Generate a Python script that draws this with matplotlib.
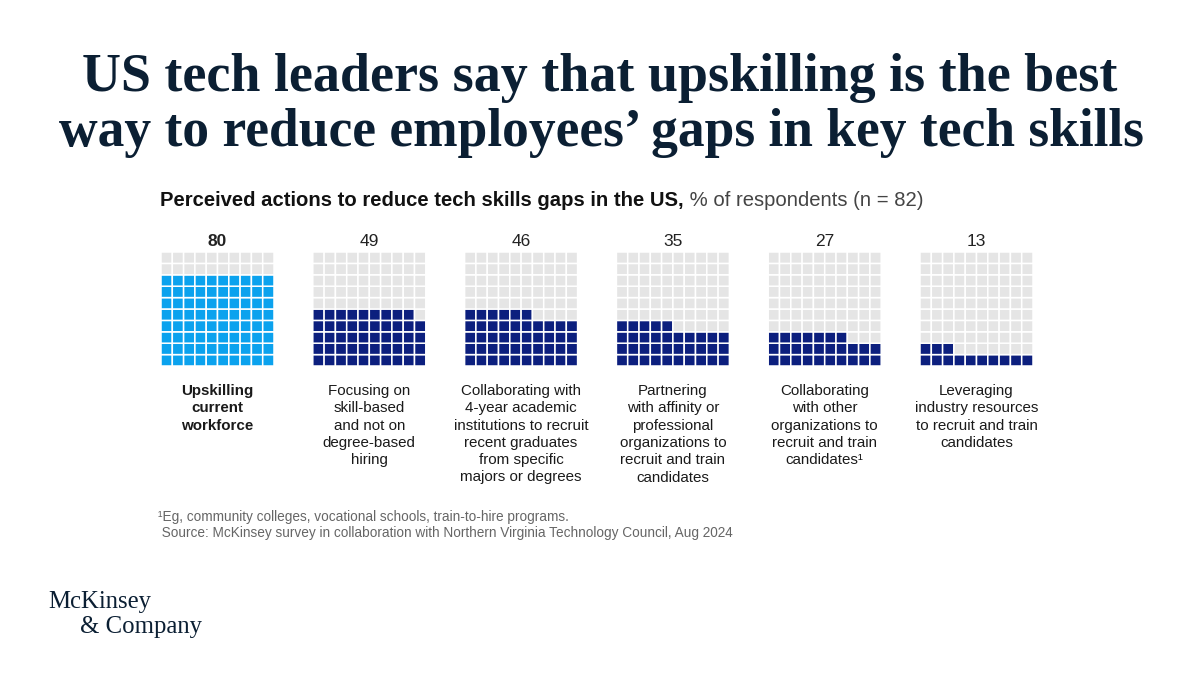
import matplotlib
matplotlib.use("Agg")
import matplotlib.pyplot as plt
from matplotlib.patches import Rectangle

# ---------------- data ----------------
values = [80, 49, 46, 35, 27, 13]
value_labels = ["80", "49", "46", "35", "27", "13"]
categories = [
    "Upskilling\ncurrent\nworkforce",
    "Focusing on\nskill-based\nand not on\ndegree-based\nhiring",
    "Collaborating with\n4-year academic\ninstitutions to recruit\nrecent graduates\nfrom specific\nmajors or degrees",
    "Partnering\nwith affinity or\nprofessional\norganizations to\nrecruit and train\ncandidates",
    "Collaborating\nwith other\norganizations to\nrecruit and train\ncandidates\u00b9",
    "Leveraging\nindustry resources\nto recruit and train\ncandidates",
]
highlight = [True, False, False, False, False, False]
title_lines = [
    "US tech leaders say that upskilling is the best",
    "way to reduce employees\u2019 gaps in key tech skills",
]
subtitle_bold = "Perceived actions to reduce tech skills gaps in the US,"
subtitle_light = " % of respondents (n = 82)"
footnotes = [
    "\u00b9Eg, community colleges, vocational schools, train-to-hire programs.",
    " Source: McKinsey survey in collaboration with Northern Virginia Technology Council, Aug 2024",
]

# ---------------- style ----------------
W, H = 1200, 675
NAVY_TXT = "#0B1F33"
C_HI = "#0BA2EE"
C_FILL = "#0C1F7E"
C_EMPTY = "#E5E5E5"
SANS = ["Liberation Sans", "DejaVu Sans"]
SERIF = ["Liberation Serif", "DejaVu Serif"]

fig = plt.figure(figsize=(12, 6.75), dpi=100)
fig.patch.set_facecolor("white")


def fx(px):
    return px / W


def fy(py):
    return 1 - py / H


def fit_width(t, target):
    fig.canvas.draw()
    w = t.get_window_extent(renderer=fig.canvas.get_renderer()).width
    t.set_fontsize(t.get_fontsize() * target / w)


# ---------------- title ----------------
t1 = fig.text(fx(600), fy(91), title_lines[0], ha="center", va="baseline",
              family=SERIF, fontweight="bold", fontsize=36, color=NAVY_TXT)
t2 = fig.text(fx(601), fy(146), title_lines[1], ha="center", va="baseline",
              family=SERIF, fontweight="bold", fontsize=36, color=NAVY_TXT)
fit_width(t1, 1036)
fit_width(t2, 1087)

# ---------------- subtitle ----------------
sb = fig.text(fx(160), fy(206), subtitle_bold, ha="left", va="baseline",
              family=SANS, fontweight="bold", fontsize=13, color="#111111")
fit_width(sb, 522)
fig.canvas.draw()
bb = sb.get_window_extent(renderer=fig.canvas.get_renderer())
sl = fig.text(bb.x1 / W, fy(206), subtitle_light, ha="left", va="baseline",
              family=SANS, fontweight="normal", fontsize=sb.get_fontsize(),
              color="#444444")

# ---------------- waffles ----------------
grid_left0 = 161
pitch = 151.8
grid_w = 113
grid_top, grid_bot = 252, 366

for i, (v, lab, cat, hi) in enumerate(zip(values, value_labels, categories, highlight)):
    left = grid_left0 + i * pitch
    ax = fig.add_axes([fx(left), fy(grid_bot), grid_w / W, (grid_bot - grid_top) / H])
    ax.set_xlim(0, 10)
    ax.set_ylim(0, 10)
    ax.axis("off")
    fill = C_HI if hi else C_FILL
    for k in range(100):
        row, col = divmod(k, 10)
        color = fill if k < v else C_EMPTY
        ax.add_patch(Rectangle((col, row), 1, 1, facecolor=color,
                               edgecolor="white", linewidth=1.1, snap=False))
    cx = left + grid_w / 2
    fig.text(fx(cx), fy(241), lab, ha="center", va="center", family=SANS,
             fontsize=12.5, fontweight="bold" if hi else "normal", color="#222222")
    fig.text(fx(cx), fy(384), cat, ha="center", va="top", family=SANS,
             fontsize=10.9, fontweight="bold" if hi else "normal",
             color="#1a1a1a", linespacing=1.3)

# ---------------- footnotes ----------------
f1 = fig.text(fx(158), fy(521), footnotes[0], ha="left", va="baseline",
              family=SANS, fontsize=9.5, color="#666666")
f2 = fig.text(fx(158), fy(537), footnotes[1], ha="left", va="baseline",
              family=SANS, fontsize=9.5, color="#666666")
fit_width(f2, 574)
f1.set_fontsize(f2.get_fontsize())

# ---------------- logo ----------------
l1 = fig.text(fx(48), fy(608), "McKinsey", ha="left", va="baseline",
              family=SERIF, fontsize=16, color=NAVY_TXT)
l2 = fig.text(fx(80), fy(633), "& Company", ha="left", va="baseline",
              family=SERIF, fontsize=16, color=NAVY_TXT)
fit_width(l1, 103)
l2.set_fontsize(l1.get_fontsize())

fig.savefig("out.png", dpi=100, facecolor="white")
